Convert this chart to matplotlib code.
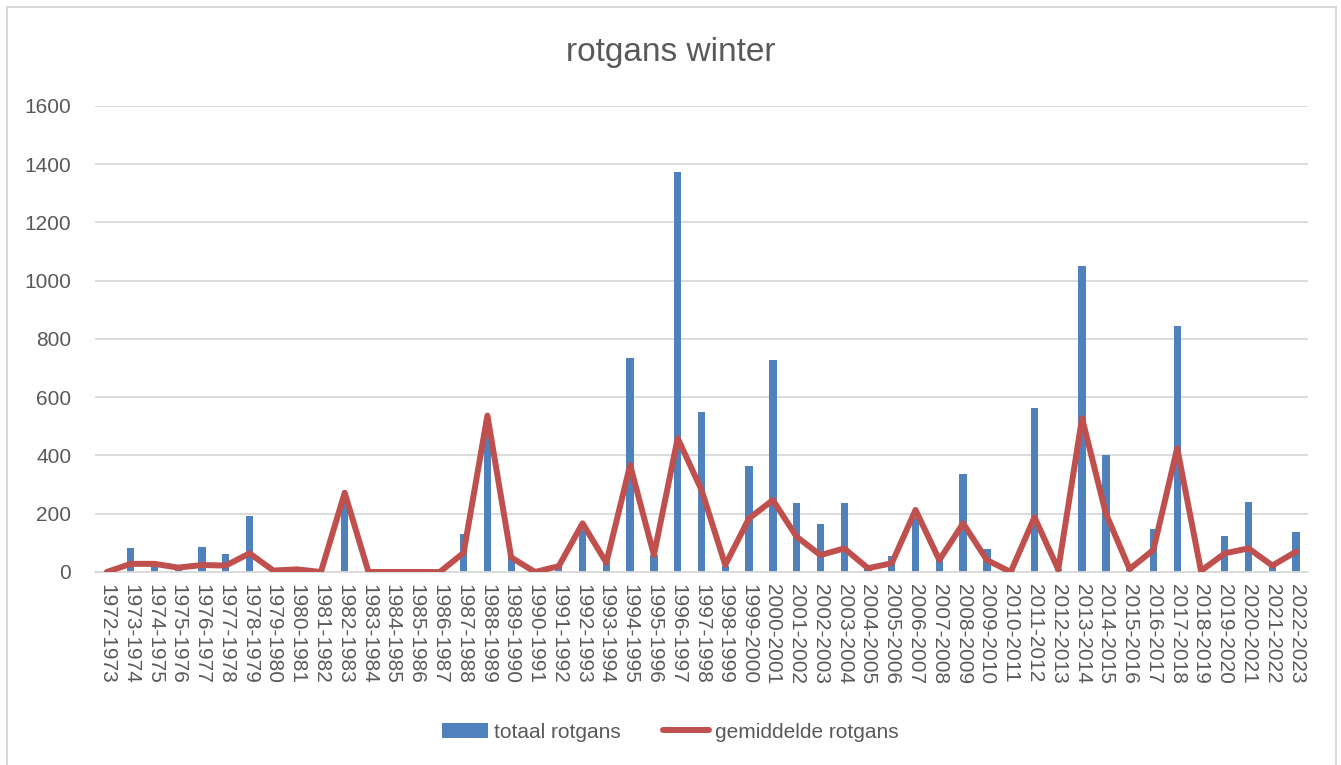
import matplotlib.pyplot as plt
from matplotlib.patches import Rectangle
import numpy as np

blue = '#4F81BD'
red = '#C0504D'
grey_text = '#595959'
grid_grey = '#D9D9D9'

seasons = ['%d-%d' % (y, y + 1) for y in range(1972, 2023)]

totaal = [0, 81, 30, 15, 86, 61, 192, 5, 9, 0,
          250, 0, 0, 0, 0, 132, 480, 53, 0, 27,
          144, 35, 735, 60, 1373, 549, 20, 364, 727, 236,
          165, 237, 13, 55, 185, 60, 335, 79, 0, 562,
          9, 1052, 403, 10, 149, 846, 4, 125, 239, 20,
          138]

gemiddelde = [0, 28, 28, 15, 24, 22, 64, 5, 9, 0,
              272, 0, 0, 0, 0, 66, 537, 50, 0, 20,
              167, 32, 367, 58, 459, 282, 24, 184, 247, 121,
              58, 81, 13, 30, 213, 41, 167, 41, 0, 188,
              9, 528, 201, 10, 76, 425, 4, 64, 81, 22,
              70]

plt.rc('font', family=['Liberation Sans', 'DejaVu Sans'])

fig = plt.figure(figsize=(13.41, 7.65), dpi=100)
ax = fig.add_axes([0.0708, 0.2523, 0.9046, 0.6092])

x = np.arange(len(seasons))
bars = ax.bar(x, totaal, width=0.31, color=blue, label='totaal rotgans', zorder=2)
line, = ax.plot(x, gemiddelde, color=red, linewidth=4.3, solid_joinstyle='round',
                solid_capstyle='round', label='gemiddelde rotgans', zorder=3)

ax.set_xlim(-0.5, len(seasons) - 0.5)
ax.set_ylim(0, 1600)
ax.set_yticks(range(0, 1601, 200))
ax.set_xticks(x)
ax.set_xticklabels(seasons, rotation=270, fontsize=15, color=grey_text)
ax.tick_params(axis='y', labelsize=15, labelcolor=grey_text, length=0, pad=17)
ax.tick_params(axis='x', length=0, pad=9)
ax.grid(True, axis='y', color=grid_grey, linewidth=1.3, zorder=0)
ax.set_axisbelow(True)
for s in ['top', 'right', 'left']:
    ax.spines[s].set_visible(False)
ax.spines['bottom'].set_color(grid_grey)
ax.spines['bottom'].set_linewidth(1.3)

fig.text(0.5, 0.931, 'rotgans winter', ha='center', va='center',
         fontsize=24, color=grey_text)

fig.legend([bars, line], ['totaal rotgans', 'gemiddelde rotgans'],
           loc='center', bbox_to_anchor=(0.5, 0.043), ncol=2, frameon=False,
           fontsize=15, labelcolor=grey_text, handlelength=2.2,
           handletextpad=0.3, columnspacing=2.0)

fig.patches.append(Rectangle((7 / 1341, -0.05), 1329 / 1341, 1.05 - 7 / 765,
                             transform=fig.transFigure, fill=False,
                             edgecolor=grid_grey, linewidth=1.5))

plt.savefig('out.png', dpi=100)
